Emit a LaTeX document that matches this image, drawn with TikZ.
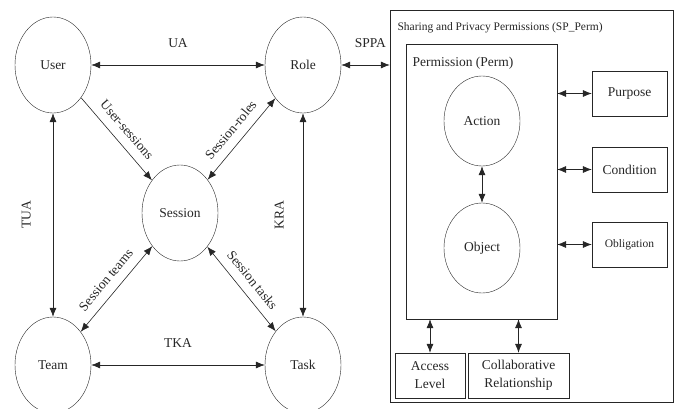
\documentclass[tikz,border=0pt]{standalone}
\usepackage{fontspec}
\setmainfont{Liberation Serif}
\usetikzlibrary{shapes.geometric,arrows.meta}
\begin{document}
\begin{tikzpicture}[x=1pt, y=-1pt, color=black!85, font=\fontsize{13.5}{18}\selectfont,
    ent/.style={draw, ellipse, minimum width=76pt, minimum height=96pt, inner sep=0pt},
    box/.style={draw, minimum width=75pt, minimum height=45pt, inner sep=1pt, align=center},
    link/.style={{Latex[length=9pt,width=7pt]}-{Latex[length=9pt,width=7pt]}, semithick},
    lab/.style={midway, above=9pt, sloped, inner sep=0pt}]
  \useasboundingbox (0,0) rectangle (675,409);

  \node[ent] (user) at (53,65) {User};
  \node[ent] (role) at (303,65) {Role};
  \node[ent] (session) at (180,213) {Session};
  \node[ent] (team) at (53,365) {Team};
  \node[ent] (task) at (303,365) {Task};

  \draw[link] (user) -- (role) node[midway, above=14pt] {UA};
  \draw[link] (team) -- (task) node[midway, above=14pt] {TKA};
  \draw[link] (team) -- (user) node[lab, above=13pt] {TUA};
  \draw[link] (task) -- (role) node[lab, above=10pt] {KRA};
  \draw[-{Latex[length=9pt,width=7pt]}, semithick] (user) -- (session) node[lab] {User-sessions};
  \draw[link] (session) -- (role) node[lab] {Session-roles};
  \draw[link] (team) -- (session) node[lab] {Session teams};
  \draw[link] (session) -- (task) node[lab] {Session tasks};

  \node[draw, minimum width=283pt, minimum height=392pt] (spperm) at (531.5,206) {};
  \node[anchor=west, font=\fontsize{11.5}{13}\selectfont] (sptitle) at (394,28) {Sharing and Privacy Permissions (SP\_Perm)};
  \draw[link] (role.east) -- (spperm.west |- role.east) node[pos=0.6, above=14pt] {SPPA};

  \node[draw, minimum width=151pt, minimum height=275pt] (perm) at (481.5,181.5) {};
  \node[anchor=west] (permtitle) at (409,63) {Permission (Perm)};
  \node[ent, minimum height=90pt] (action) at (482,121) {Action};
  \node[ent, minimum height=90pt] (object) at (482,248) {Object};
  \draw[link] (action) -- (object);

  \node[box] (purpose) at (629.5,93.5) {Purpose};
  \node[box] (condition) at (629.5,169.5) {Condition};
  \node[box, font=\fontsize{11.5}{13}\selectfont] (obligation) at (629.5,244.5) {Obligation};
  \foreach \b in {purpose, condition, obligation}
    \draw[link] (perm.east |- \b.west) -- (\b.west);

  \node[box, minimum width=70pt] (access) at (430,375.5) {Access\\Level};
  \node[box, minimum width=101pt] (collab) at (518.5,375.5) {Collaborative\\Relationship};
  \draw[link] (access.north |- perm.south) -- (access.north);
  \draw[link] (collab.north |- perm.south) -- (collab.north);
\end{tikzpicture}
\end{document}
